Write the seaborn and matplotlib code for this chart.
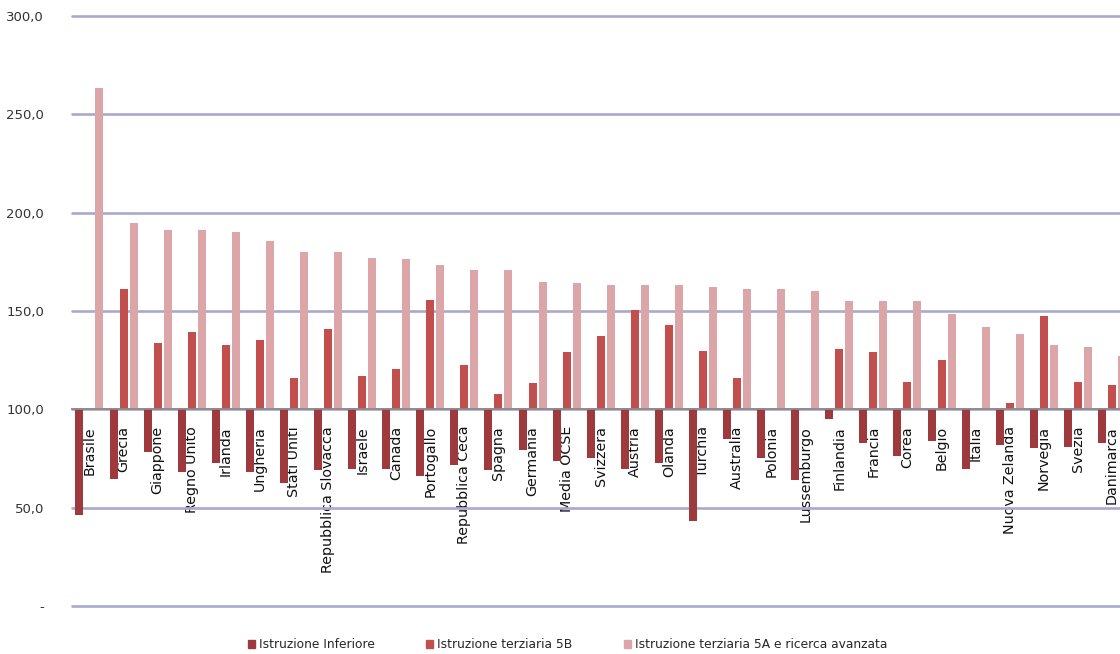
import numpy as np
import pandas as pd
import matplotlib
matplotlib.use("Agg")
import matplotlib.pyplot as plt
from matplotlib.ticker import FixedLocator, FuncFormatter
import seaborn as sns

# Indici (OCSE = 100) per livello di istruzione
paesi = [
    "Brasile", "Grecia", "Giappone", "Regno Unito", "Irlanda", "Ungheria",
    "Stati Uniti", "Repubblica Slovacca", "Israele", "Canada", "Portogallo",
    "Repubblica Ceca", "Spagna", "Germania", "Media OCSE", "Svizzera",
    "Austria", "Olanda", "Turchia", "Australia", "Polonia", "Lussemburgo",
    "Finlandia", "Francia", "Corea", "Belgio", "Italia", "Nuova Zelanda",
    "Norvegia", "Svezia", "Danimarca",
]
istruzione_inferiore = [
    46.1, 64.5, 78.4, 68.0, 72.6, 68.0, 62.6, 69.0, 69.9, 69.9, 66.2,
    71.8, 69.0, 79.3, 73.6, 75.5, 69.9, 72.6, 43.0, 84.7, 75.5, 64.3,
    94.9, 82.8, 76.4, 83.8, 69.9, 82.0, 80.1, 81.0, 82.8,
]
terziaria_5b = [
    np.nan, 161.4, 133.5, 139.1, 132.7, 135.4, 115.8, 141.0, 116.8, 120.6, 155.8,
    122.4, 107.7, 113.3, 128.9, 137.2, 150.3, 142.9, 129.8, 116.0, np.nan, np.nan,
    130.8, 128.9, 114.1, 125.2, np.nan, 103.1, 147.4, 114.1, 112.2,
]
terziaria_5a = [
    263.3, 194.6, 191.0, 191.0, 190.0, 185.4, 179.9, 179.9, 177.0, 176.2, 173.3,
    170.6, 170.6, 165.0, 164.1, 163.3, 163.3, 163.3, 162.2, 161.4, 161.4, 160.4,
    154.9, 154.9, 154.9, 148.5, 141.8, 138.1, 132.7, 131.6, 127.0,
]
serie = [
    "Istruzione Inferiore",
    "Istruzione terziaria 5B",
    "Istruzione terziaria 5A e ricerca avanzata",
]
colori = ["#9E3A3D", "#C24F4E", "#DCA6A8"]
base = 100.0
y_ticks = [0, 50, 100, 150, 200, 250, 300]

df = pd.DataFrame({
    "Paese": np.repeat(paesi, 3),
    "Serie": serie * len(paesi),
    "Indice": np.column_stack([istruzione_inferiore, terziaria_5b, terziaria_5a]).ravel(),
})
# bars grow from the 100 line: plot the distance from the base
df["Scarto"] = df["Indice"] - base
df = df.dropna()

sns.set_theme(style="white")
plt.rcParams["font.family"] = ["DejaVu Sans"]

fig = plt.figure(figsize=(11.2, 6.54), dpi=100)
ax = fig.add_axes([72 / 1120, 1 - 606 / 654, 1 - 72 / 1120, (606 - 16) / 654])

sns.barplot(
    data=df, x="Paese", y="Scarto", hue="Serie", order=paesi, hue_order=serie,
    palette=colori, width=0.88, gap=0.2, linewidth=0, saturation=1,
    legend=False, ax=ax, zorder=3,
)

ax.set_xlim(-0.513, 30.235)
ax.set_ylim(y_ticks[0] - base, y_ticks[-1] - base)

ax.yaxis.set_major_locator(FixedLocator([t - base for t in y_ticks]))
ax.yaxis.set_major_formatter(FuncFormatter(
    lambda v, p: "-" if abs(v + base) < 1e-9 else f"{v + base:.1f}".replace(".", ",")
))
ax.tick_params(axis="y", length=0, pad=20, labelsize=9.5, labelcolor="#333333")
ax.grid(axis="y", color="#A9A9CC", linewidth=1.9, zorder=0)
ax.set_axisbelow(True)
for gl in ax.yaxis.get_gridlines():
    gl.set_clip_on(False)

for s in ["left", "right", "top"]:
    ax.spines[s].set_visible(False)
ax.spines["bottom"].set_position(("data", 0))
ax.spines["bottom"].set_color("#8A8A8A")
ax.spines["bottom"].set_linewidth(1.3)
ax.spines["bottom"].set_zorder(4)

ax.tick_params(axis="x", length=0, pad=12, labelsize=10.3, labelcolor="#111111",
               labelrotation=90)
ax.set_xlabel("")
ax.set_ylabel("")

handles = [plt.Rectangle((0, 0), 1, 1, color=c) for c in colori]
fig.legend(handles, serie, loc="center", bbox_to_anchor=(0.507, 0.014), ncol=3,
           frameon=False, fontsize=8.8, handlelength=0.55, handleheight=0.55,
           handletextpad=0.35, columnspacing=4.2)

fig.savefig("out.png", dpi=100)
